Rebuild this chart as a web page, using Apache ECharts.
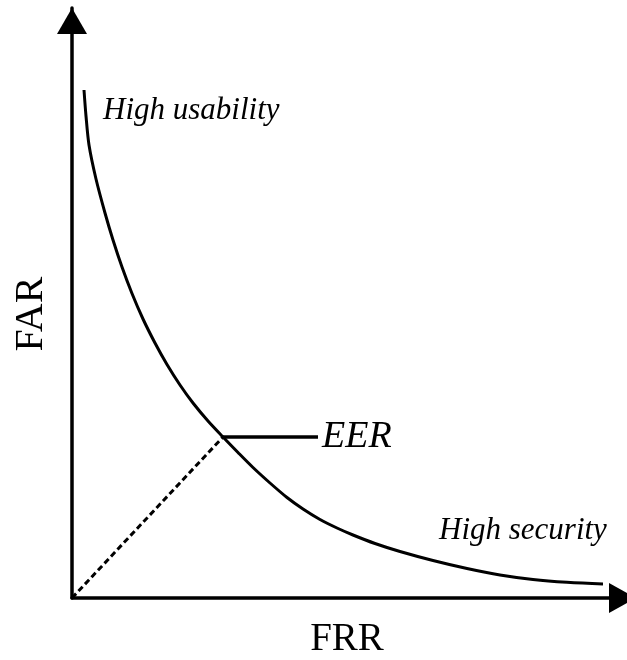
<!DOCTYPE html>
<html>
<head>
<meta charset="utf-8">
<title>FAR / FRR</title>
<script src="https://cdn.jsdelivr.net/npm/echarts@6/dist/echarts.min.js"></script>
<style>
  html, body { margin: 0; padding: 0; background: #fff; }
  #chart { width: 627px; height: 660px; }
</style>
</head>
<body>
<div id="chart"></div>
<script>
// curve (axis units = px from the origin)
const frr = [12, 14, 17, 24, 33, 41, 50, 60, 71, 83, 95, 108, 121, 136, 151, 166, 181, 198,
  215, 231, 248, 265, 281, 303, 328, 361, 395, 428, 461, 495, 531];
const far = [508, 482, 453, 419, 385, 358, 331, 304.5, 279, 255, 233.5, 213, 195, 177, 161, 145.5, 130.5, 115,
  100.5, 89, 78.5, 70, 63, 54.5, 46.5, 37.5, 29.5, 23, 18.5, 15.7, 14];

// equal error rate point and the leader line to its label
const eer = [151, 161];
const eerLeaderEnd = [246, 161];

const serif = '"Liberation Serif", "DejaVu Serif", serif';

const chart = echarts.init(document.getElementById("chart"));

const curve = frr.map((x, i) => [x, far[i]]);

chart.setOption({
  animation: false,
  backgroundColor: "#fff",
  grid: { left: 72, top: 8, right: 0, bottom: 62 },
  xAxis: {
    type: "value",
    min: 0,
    max: 555,
    axisLine: {
      symbol: ["none", "triangle"],
      symbolSize: [30, 27],
      symbolOffset: [0, -4.5],
      lineStyle: { color: "#000", width: 3.5 },
    },
    axisTick: { show: false },
    axisLabel: { show: false },
    splitLine: { show: false },
  },
  yAxis: {
    type: "value",
    min: 0,
    max: 590,
    axisLine: {
      symbol: ["none", "triangle"],
      symbolSize: [30, 26],
      symbolOffset: [0, -13],
      lineStyle: { color: "#000", width: 3.5 },
    },
    axisTick: { show: false },
    axisLabel: { show: false },
    splitLine: { show: false },
  },
  series: [
    {
      type: "line",
      data: curve,
      smooth: 0.3,
      showSymbol: false,
      lineStyle: { color: "#000", width: 3 },
    },
    {
      type: "line",
      data: [[0, 0], eer],
      showSymbol: false,
      lineStyle: { color: "#000", width: 3, type: [6, 3.5] },
    },
    {
      type: "line",
      data: [eer, eerLeaderEnd],
      showSymbol: false,
      lineStyle: { color: "#000", width: 3.5 },
    },
  ],
  graphic: [
    {
      type: "text",
      x: 103,
      y: 111,
      style: { text: "High usability", font: "italic 31px " + serif, fill: "#000", verticalAlign: "middle" },
    },
    {
      type: "text",
      x: 439,
      y: 531,
      style: { text: "High security", font: "italic 31px " + serif, fill: "#000", verticalAlign: "middle" },
    },
    {
      type: "text",
      x: 322,
      y: 437,
      style: { text: "EER", font: "italic 38px " + serif, fill: "#000", verticalAlign: "middle" },
    },
    {
      type: "text",
      x: 347,
      y: 640,
      style: { text: "FRR", font: "39px " + serif, fill: "#000", align: "center", verticalAlign: "middle" },
    },
    {
      type: "text",
      x: 31,
      y: 314,
      rotation: Math.PI / 2,
      style: { text: "FAR", font: "40px " + serif, fill: "#000", align: "center", verticalAlign: "middle" },
    },
  ],
});
</script>
</body>
</html>
